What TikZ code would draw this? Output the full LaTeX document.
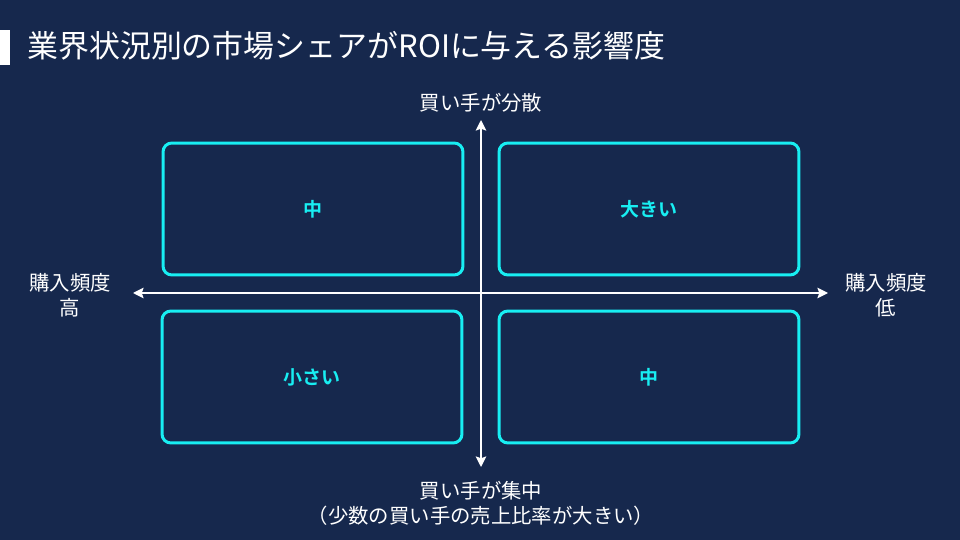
\documentclass[tikz,border=0pt]{standalone}
\usepackage{fontspec}
\setmainfont{Noto Sans CJK JP}[BoldFont={Noto Sans CJK JP Bold}]
\usetikzlibrary{arrows.meta}
\definecolor{navybg}{RGB}{22,40,77}
\definecolor{aqua}{RGB}{24,238,242}

\begin{document}
\begin{tikzpicture}[x=0.02cm,y=-0.02cm,
        quad/.style = {draw=aqua,line width=1.7pt,rounded corners=5pt,minimum width=6cm,minimum height=2.64cm,text=aqua,font=\bfseries\fontsize{10.8}{12}\selectfont},
        axis/.style = {white,line width=0.9pt,{Stealth[length=6pt,width=6pt,inset=1pt]}-{Stealth[length=6pt,width=6pt,inset=1pt]}},
        lbl/.style = {text=white,align=center,font=\fontsize{11.6}{14.3}\selectfont}]
        \fill[navybg] (0,0) rectangle (960,540);
        \fill[white] (0,30) rectangle (10,65);
        \node[anchor=west,text=white,font=\fontsize{17.6}{20}\selectfont,inner sep=0pt] (title) at (27,46) {業界状況別の市場シェアがROIに与える影響度};
        % quadrants
        \node[quad] (tl) at (313,209) {中};
        \node[quad] (tr) at (649,209) {大きい};
        \node[quad] (bl) at (312,377) {小さい};
        \node[quad] (br) at (649,377) {中};
        % axes
        \coordinate (west) at (133,293);
        \coordinate (east) at (828,293);
        \coordinate (north) at (481,120);
        \coordinate (south) at (481,467);
        \draw[axis] (west) -- (east);
        \draw[axis] (north) -- (south);
        \node[lbl] (top) at (481,103) {買い手が分散};
        \node[lbl] (bottom) at (481,503) {買い手が集中\\（少数の買い手の売上比率が大きい）};
        \node[lbl] (left) at (70,295) {購入頻度\\高};
        \node[lbl] (right) at (886,295) {購入頻度\\低};
\end{tikzpicture}
\end{document}
